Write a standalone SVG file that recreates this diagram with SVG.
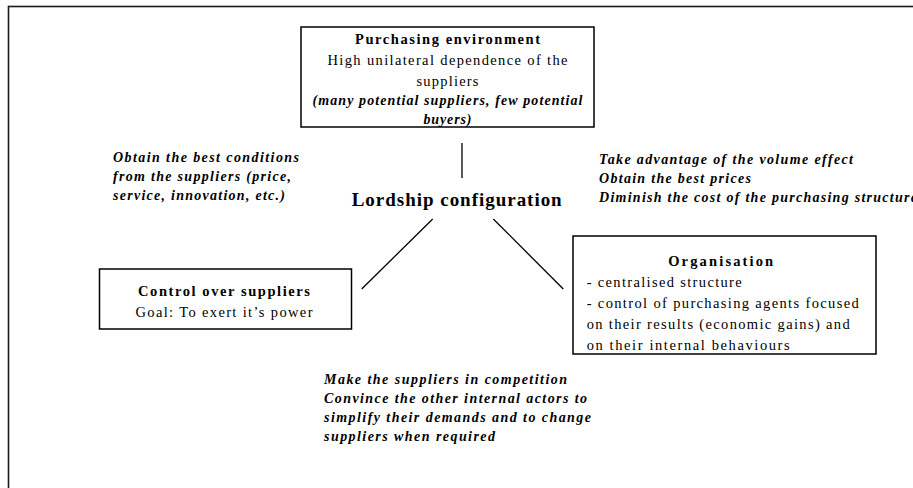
<svg xmlns="http://www.w3.org/2000/svg" width="913" height="488" viewBox="0 0 913 488">
<style>
.box{fill:#fff;stroke:#000;stroke-width:1.5}
.frame{fill:none;stroke:#1a1a1a;stroke-width:1.6}
.ln{stroke:#000;stroke-width:1.3;fill:none}
text{font-family:"Liberation Serif","Times New Roman",serif;fill:#000;font-size:14.5px}
.b{font-weight:bold}
.i{font-style:italic;font-weight:bold;font-size:14px}
.t{font-weight:bold;font-size:19px}
.m{text-anchor:middle}
</style>
<rect class="frame" x="8.5" y="6.5" width="1000" height="1000"/>
<g id="connectors">
<line class="ln" x1="462" y1="143" x2="462" y2="178"/>
<line class="ln" x1="432.7" y1="219" x2="361.7" y2="289"/>
<line class="ln" x1="493.3" y1="219" x2="563.3" y2="289"/>
</g>
<g id="purchasing-environment">
<rect class="box" x="301" y="27" width="293" height="100"/>
<text class="b m" x="447.5" y="44" textLength="185" lengthAdjust="spacing">Purchasing environment</text>
<text class="m" x="447.5" y="65" textLength="240" lengthAdjust="spacing">High unilateral dependence of the</text>
<text class="m" x="447.5" y="86" textLength="62" lengthAdjust="spacing">suppliers</text>
<text class="i m" x="447.5" y="105" textLength="270" lengthAdjust="spacing">(many potential suppliers, few potential</text>
<text class="i m" x="447.5" y="124" textLength="48" lengthAdjust="spacing">buyers)</text>
</g>
<g id="lordship-configuration">
<text class="t m" x="456.7" y="206" textLength="210" lengthAdjust="spacing">Lordship configuration</text>
</g>
<g id="left-objectives">
<text class="i" x="113" y="162" textLength="186" lengthAdjust="spacing">Obtain the best conditions</text>
<text class="i" x="113" y="181" textLength="178" lengthAdjust="spacing">from the suppliers (price,</text>
<text class="i" x="113" y="200" textLength="172" lengthAdjust="spacing">service, innovation, etc.)</text>
</g>
<g id="right-objectives">
<text class="i" x="599" y="164" textLength="254" lengthAdjust="spacing">Take advantage of the volume effect</text>
<text class="i" x="599" y="183" textLength="152" lengthAdjust="spacing">Obtain the best prices</text>
<text class="i" x="599" y="202" textLength="318" lengthAdjust="spacing">Diminish the cost of the purchasing structure</text>
</g>
<g id="control-over-suppliers">
<rect class="box" x="99.5" y="269" width="252" height="60"/>
<text class="b m" x="224" y="296" textLength="172" lengthAdjust="spacing">Control over suppliers</text>
<text class="m" x="224" y="317" textLength="177" lengthAdjust="spacing">Goal: To exert it’s power</text>
</g>
<g id="organisation">
<rect class="box" x="573" y="236" width="303" height="118"/>
<text class="b m" x="720.7" y="266" textLength="105" lengthAdjust="spacing">Organisation</text>
<text x="586.7" y="287" textLength="155" lengthAdjust="spacing">- centralised structure</text>
<text x="586.7" y="308" textLength="272" lengthAdjust="spacing">- control of purchasing agents focused</text>
<text x="586.7" y="329" textLength="263" lengthAdjust="spacing">on their results (economic gains) and</text>
<text x="586.7" y="350" textLength="203" lengthAdjust="spacing">on their internal behaviours</text>
</g>
<g id="bottom-actions">
<text class="i" x="324" y="384" textLength="243" lengthAdjust="spacing">Make the suppliers in competition</text>
<text class="i" x="324" y="403" textLength="263" lengthAdjust="spacing">Convince the other internal actors to</text>
<text class="i" x="324" y="422" textLength="267" lengthAdjust="spacing">simplify their demands and to change</text>
<text class="i" x="324" y="441" textLength="171" lengthAdjust="spacing">suppliers when required</text>
</g>
</svg>
